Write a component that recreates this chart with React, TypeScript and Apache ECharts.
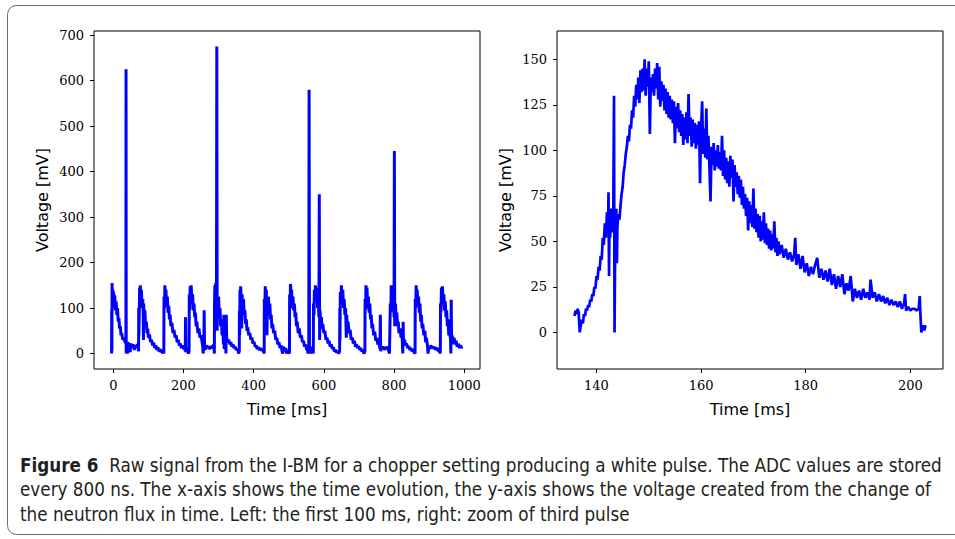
import React, { useEffect, useRef } from "react";
import * as echarts from "echarts";

// Left panel: raw signal, first ~1000 ms  [time ms, voltage mV]
const leftSignal: [number, number][] = [
  [-5, 0], [-4.5, 95], [-4, 5], [-3.5, 155], [-2, 100], [-1, 140], [0, 105], [1, 135], [2, 110], [4, 128], [6, 95], [8, 115], [10, 85], [12, 100], [14, 70], [16, 78], [18, 55], [20, 60], [22, 40], [24, 45], [27, 30], [30, 35], [33, 25], [35, 30], [36, 20], [36.3, 625], [36.8, 0], [38, 20], [40, 0], [42, 25], [45, 18], [48, 3], [50, 22], [53, 15], [56, 20], [60, 8], [63, 18], [66, 15], [69, 20], [71, 10],
  [72, 5], [72.5, 100], [73, 40], [75, 145], [76, 115], [77, 150], [79, 105], [80, 140], [82, 100], [84, 120], [85, 95], [86, 30], [86.5, 110], [88, 80], [90, 95], [92, 60], [94, 70], [96, 45], [98, 55], [100, 35], [103, 42], [106, 25], [109, 30], [112, 18], [115, 24], [118, 12], [121, 18], [124, 8], [127, 14], [130, 5], [133, 10], [136, 3], [139, 8], [141, 0], [143, 5],
  [144, 0], [144.5, 125], [146, 100], [147, 150], [149, 120], [150, 140], [152, 105], [154, 125], [156, 90], [158, 105], [160, 75], [162, 85], [164, 60], [167, 68], [170, 45], [173, 52], [176, 35], [179, 40], [182, 25], [185, 30], [188, 18], [191, 22], [194, 12], [197, 18], [200, 10], [203, 15], [205, 5], [206, 80], [207, 3], [209, 12], [212, 5], [214, 0],
  [216, 5], [216.5, 130], [218, 95], [219, 148], [221, 115], [222, 150], [224, 110], [226, 130], [228, 95], [230, 110], [232, 80], [234, 90], [236, 60], [238, 70], [241, 45], [244, 55], [247, 35], [250, 40], [253, 25], [255, 15], [256, 0], [258, 20], [259, 95], [260, 15], [262, 8], [265, 18], [268, 12], [271, 16], [274, 10], [277, 14], [280, 15], [283, 12], [286, 20],
  [288, 0], [288.5, 110], [289.5, 150], [291, 100], [292, 155], [294, 120], [295, 675], [296, 50], [297, 120], [299, 95], [300, 125], [302, 80], [304, 100], [306, 60], [308, 75], [310, 40], [312, 55], [314, 20], [315, 85], [316, 10], [318, 45], [320, 30], [321, 0], [322, 85], [323, 35], [326, 25], [329, 30], [332, 20], [335, 25], [338, 15], [341, 20], [344, 12], [347, 15], [350, 8], [353, 10], [356, 5], [357, 0],
  [359, 5], [359.5, 95], [360, 40], [361, 140], [362, 115], [363, 148], [365, 105], [366, 55], [367, 130], [369, 100], [371, 120], [373, 85], [375, 95], [377, 65], [379, 75], [381, 50], [383, 58], [386, 40], [389, 45], [392, 30], [395, 35], [398, 22], [401, 26], [404, 15], [407, 18], [410, 10], [413, 14], [416, 8], [419, 12], [422, 6], [425, 10], [428, 5],
  [430, 0], [430.5, 120], [432, 95], [433, 148], [435, 110], [436, 140], [438, 40], [439, 120], [441, 85], [442, 125], [444, 90], [446, 110], [448, 75], [450, 85], [452, 55], [454, 65], [457, 45], [460, 50], [463, 30], [466, 35], [469, 20], [472, 25], [475, 12], [478, 18], [481, 5], [483, 0], [485, 15], [488, 5], [491, 12], [494, 0], [497, 8], [500, 3],
  [502, 0], [502.5, 130], [504, 110], [505, 153], [507, 120], [508, 140], [510, 100], [512, 125], [514, 95], [516, 110], [518, 80], [520, 90], [522, 60], [524, 70], [527, 45], [530, 55], [533, 35], [536, 40], [539, 25], [542, 28], [545, 15], [548, 20], [551, 8], [553, 10], [555, 0], [556, 15], [557, 5], [558, 580], [559, 0], [561, 10], [564, 0], [566, 15],
  [570, 0], [570.5, 110], [572, 85], [573, 140], [575, 115], [576, 150], [578, 120], [580, 145], [582, 100], [584, 115], [586, 80], [587, 350], [588, 30], [589, 95], [591, 70], [593, 80], [595, 55], [597, 65], [600, 45], [603, 50], [606, 30], [609, 35], [612, 22], [615, 28], [618, 15], [621, 20], [624, 10], [627, 14], [630, 5], [633, 8], [636, 2], [639, 6], [642, 0],
  [645, 5], [645.5, 100], [646, 30], [647, 135], [649, 115], [650, 150], [652, 110], [654, 140], [656, 100], [658, 120], [660, 85], [662, 100], [664, 35], [665, 85], [667, 60], [669, 70], [672, 45], [675, 52], [678, 30], [681, 35], [684, 22], [687, 28], [690, 15], [693, 20], [696, 12], [699, 16], [702, 8], [705, 12], [708, 5], [711, 8], [714, 0],
  [717, 5], [717.5, 120], [719, 95], [720, 150], [722, 115], [723, 145], [725, 100], [727, 125], [729, 90], [731, 110], [733, 75], [735, 85], [737, 55], [739, 65], [742, 40], [745, 48], [748, 28], [751, 34], [754, 20], [757, 25], [760, 10], [761, 85], [762, 5], [764, 15], [767, 10], [770, 15], [773, 8], [776, 14], [779, 10], [782, 15], [785, 5], [787, 0],
  [789, 0], [789.5, 110], [791, 90], [792, 150], [794, 120], [795, 140], [797, 105], [799, 130], [800, 80], [801, 445], [802, 60], [804, 110], [806, 75], [808, 90], [810, 60], [812, 70], [814, 45], [817, 55], [820, 35], [823, 40], [825, 0], [826, 70], [827, 25], [830, 30], [833, 18], [836, 22], [839, 12], [842, 16], [845, 8], [848, 12], [851, 5], [854, 10], [857, 3],
  [860, 0], [860.5, 120], [862, 100], [863, 150], [865, 115], [866, 140], [868, 105], [870, 125], [872, 90], [874, 110], [876, 70], [878, 85], [880, 55], [882, 65], [885, 40], [888, 50], [890, 25], [892, 35], [895, 20], [897, 0], [899, 15], [902, 10], [905, 18], [908, 12], [911, 15], [914, 10], [917, 14], [920, 8], [923, 12], [926, 5], [929, 10], [931, 0],
  [932, 5], [932.5, 110], [934, 90], [935, 145], [937, 120], [938, 148], [940, 110], [942, 130], [944, 95], [946, 115], [948, 80], [950, 95], [952, 60], [954, 75], [956, 40], [958, 55], [961, 30], [962, 0], [963, 118], [964, 20], [966, 40], [968, 22], [971, 35], [974, 20], [977, 28], [980, 15], [983, 22], [986, 12], [989, 18], [992, 13], [995, 15],
];

// Right panel: zoom of third pulse  [time ms, voltage mV]
const rightSignal: [number, number][] = [
  [135.8, 9], [136.0, 12], [136.2, 10], [136.4, 13], [136.6, 11], [136.8, 0], [137.0, 4], [137.2, 7], [137.4, 5], [137.6, 10], [137.8, 9], [138.0, 13], [138.2, 12], [138.4, 15], [138.6, 14], [138.8, 18], [139.0, 17], [139.2, 21], [139.4, 20], [139.6, 25], [139.8, 24], [140.0, 31], [140.2, 29], [140.4, 36], [140.6, 34], [140.8, 42], [141.0, 40], [141.2, 52], [141.4, 48], [141.6, 60], [141.8, 52], [142.0, 66], [142.2, 55], [142.3, 77], [142.4, 31], [142.5, 65], [142.6, 52], [142.8, 68], [143.0, 55], [143.2, 62], [143.35, 130], [143.45, 0], [143.6, 60], [143.8, 68], [143.9, 38], [144.0, 58], [144.2, 65], [144.4, 62], [144.6, 70], [144.8, 76], [145.0, 80], [145.2, 88], [145.4, 92], [145.6, 98], [145.8, 102], [146.0, 108], [146.2, 105], [146.4, 114], [146.6, 112], [146.8, 122], [147.0, 118], [147.2, 130], [147.4, 124], [147.6, 136], [147.8, 128], [148.0, 140], [148.2, 126], [148.4, 144], [148.6, 132], [148.8, 145], [149.0, 133], [149.2, 150], [149.4, 130], [149.6, 145], [149.8, 135], [150.0, 149], [150.2, 109], [150.4, 140], [150.6, 132], [150.8, 142], [151.0, 130], [151.2, 145], [151.4, 134], [151.6, 148], [151.8, 128], [152.0, 146], [152.2, 124], [152.4, 138], [152.6, 127], [152.8, 136], [153.0, 122], [153.2, 134], [153.4, 120], [153.6, 132], [153.8, 118], [154.0, 130], [154.2, 117], [154.4, 128], [154.6, 115], [154.8, 127], [155.0, 104], [155.2, 124], [155.4, 112], [155.6, 126], [155.8, 110], [156.0, 122], [156.2, 108], [156.4, 120], [156.6, 103], [156.8, 118], [157.0, 106], [157.2, 121], [157.4, 104], [157.6, 131], [157.8, 108], [158.0, 118], [158.2, 102], [158.4, 117], [158.6, 104], [158.8, 115], [159.0, 101], [159.2, 114], [159.4, 103], [159.6, 116], [159.8, 82], [160.0, 112], [160.2, 127], [160.4, 98], [160.6, 112], [160.8, 96], [161.0, 123], [161.2, 95], [161.4, 108], [161.6, 90], [161.8, 72], [162.0, 102], [162.2, 92], [162.4, 104], [162.6, 89], [162.8, 100], [163.0, 91], [163.2, 103], [163.4, 90], [163.6, 99], [163.8, 89], [164.0, 108], [164.2, 86], [164.4, 100], [164.6, 84], [164.8, 96], [165.0, 82], [165.2, 94], [165.4, 80], [165.6, 97], [165.8, 85], [166.0, 95], [166.2, 72], [166.4, 92], [166.6, 80], [166.8, 88], [167.0, 76], [167.2, 86], [167.4, 74], [167.6, 84], [167.8, 70], [168.0, 80], [168.2, 68], [168.4, 76], [168.6, 64], [168.8, 74], [169.0, 56], [169.2, 72], [169.4, 60], [169.6, 70], [169.8, 58], [170.0, 79], [170.2, 57], [170.4, 68], [170.6, 55], [170.8, 65], [171.0, 52], [171.2, 64], [171.4, 50], [171.6, 61], [171.8, 51], [172.0, 66], [172.2, 49], [172.4, 60], [172.6, 48], [172.8, 57], [173.0, 46], [173.2, 56], [173.4, 45], [173.6, 54], [173.8, 46], [174.0, 61], [174.2, 44], [174.4, 52], [174.6, 42], [174.8, 50], [175.0, 43], [175.4, 48], [175.8, 41], [176.2, 46], [176.6, 40], [177.0, 44], [177.4, 39], [177.8, 43], [178.0, 52], [178.2, 37], [178.6, 43], [179.0, 35], [179.4, 42], [179.8, 33], [180.2, 38], [180.6, 31], [181.0, 36], [181.4, 32], [181.8, 37], [182.2, 41], [182.6, 30], [183.0, 35], [183.4, 29], [183.8, 34], [184.2, 28], [184.6, 35], [185.0, 26], [185.4, 32], [185.8, 24], [186.2, 31], [186.6, 25], [187.0, 32], [187.4, 21], [187.8, 27], [188.2, 23], [188.6, 31], [189.0, 17], [189.4, 24], [189.8, 19], [190.2, 23], [190.6, 18], [191.0, 24], [191.4, 19], [191.8, 22], [192.2, 18], [192.4, 29], [192.8, 19], [193.2, 22], [193.6, 17], [194.0, 21], [194.4, 17], [194.8, 20], [195.2, 16], [195.6, 19], [196.0, 15], [196.4, 18], [196.8, 15], [197.2, 17], [197.6, 14], [198.0, 17], [198.4, 13], [198.8, 16], [199.0, 21], [199.2, 12], [199.6, 14], [200.0, 12], [200.4, 13], [200.8, 13], [201.2, 12], [201.6, 13], [201.8, 20], [201.9, 12], [202.1, 0], [202.3, 2], [202.5, 4], [202.7, 1], [202.9, 4],
];

const leftXTicks = [0, 200, 400, 600, 800, 1000];
const leftYTicks = [0, 100, 200, 300, 400, 500, 600, 700];
const rightXTicks = [140, 160, 180, 200];
const rightYTicks = [0, 25, 50, 75, 100, 125, 150];

const xTitle = "Time [ms]";
const yTitle = "Voltage [mV]";
const captionLines = [
  "{b|Figure 6}  Raw signal from the I-BM for a chopper setting producing a white pulse. The ADC values are stored",
  "every 800 ns. The x-axis shows the time evolution, the y-axis shows the voltage created from the change of",
  "the neutron flux in time. Left: the first 100 ms, right: zoom of third pulse",
];

const TICK_FONT = "DejaVu Serif";
const TITLE_FONT = "DejaVu Sans";
const CAPTION_FONT = "'Liberation Sans Narrow', 'DejaVu Sans Condensed', 'Roboto', sans-serif";

function axisCommon(ticks: number[], min: number, max: number) {
  return {
    type: "value" as const,
    min,
    max,
    axisLine: { show: false, onZero: false },
    splitLine: { show: false },
    axisTick: {
      show: true,
      inside: false,
      length: 4,
      customValues: ticks,
      lineStyle: { color: "#000", width: 1 },
    },
    axisLabel: {
      customValues: ticks,
      margin: 10,
      color: "#000",
      fontFamily: TICK_FONT,
      fontSize: 13,
      formatter: (v: number) => String(v),
    },
  };
}

export default function App() {
  const ref = useRef<HTMLDivElement>(null);
  useEffect(() => {
    if (!ref.current) return;
    const chart = echarts.init(ref.current, undefined, { renderer: "svg" });
    const gridBase = { top: 31, height: 338, width: 386, show: true, borderColor: "#000", borderWidth: 1, backgroundColor: "transparent" };
    chart.setOption({
      animation: false,
      backgroundColor: "#fff",
      grid: [
        { ...gridBase, left: 94 },
        { ...gridBase, left: 557 },
      ],
      xAxis: [
        { ...axisCommon(leftXTicks, -55, 1045), gridIndex: 0 },
        { ...axisCommon(rightXTicks, 132.45, 206.25), gridIndex: 1 },
      ],
      yAxis: [
        { ...axisCommon(leftYTicks, -34, 709), gridIndex: 0 },
        { ...axisCommon(rightYTicks, -20.1, 165.6), gridIndex: 1 },
      ],
      series: [
        {
          type: "line",
          xAxisIndex: 0,
          yAxisIndex: 0,
          data: leftSignal,
          showSymbol: false,
          lineStyle: { color: "#0000ff", width: 3 },
          clip: true,
        },
        {
          type: "line",
          xAxisIndex: 1,
          yAxisIndex: 1,
          data: rightSignal,
          showSymbol: false,
          lineStyle: { color: "#0000ff", width: 2.7 },
          clip: true,
        },
      ],
      graphic: [
        {
          type: "rect",
          shape: { x: 7.5, y: 5.5, width: 962, height: 529, r: 9 },
          style: { fill: "none", stroke: "#6b6b6b", lineWidth: 1 },
          silent: true,
        },
        {
          type: "text",
          x: 42,
          y: 200,
          rotation: Math.PI / 2,
          style: { text: yTitle, font: `16px ${TITLE_FONT}`, fill: "#000", align: "center", verticalAlign: "middle" },
        },
        {
          type: "text",
          x: 287,
          y: 409,
          style: { text: xTitle, font: `16px ${TITLE_FONT}`, fill: "#000", align: "center", verticalAlign: "middle" },
        },
        {
          type: "text",
          x: 505,
          y: 200,
          rotation: Math.PI / 2,
          style: { text: yTitle, font: `16px ${TITLE_FONT}`, fill: "#000", align: "center", verticalAlign: "middle" },
        },
        {
          type: "text",
          x: 750,
          y: 409,
          style: { text: xTitle, font: `16px ${TITLE_FONT}`, fill: "#000", align: "center", verticalAlign: "middle" },
        },
        ...captionLines.map((line, i) => ({
          type: "text",
          x: 20,
          y: 465 + i * 24.5,
          style: {
            text: line,
            fontFamily: CAPTION_FONT,
            fontSize: 18.7,
            fill: "#231f20",
            verticalAlign: "middle",
            rich: {
              b: { fontFamily: CAPTION_FONT, fontSize: 18.7, fontWeight: "bold", fill: "#231f20" },
            },
          },
        })),
      ],
    });
    return () => chart.dispose();
  }, []);
  return <div ref={ref} style={{ position: "absolute", left: 0, top: 0, width: 955, height: 539 }} />;
}
